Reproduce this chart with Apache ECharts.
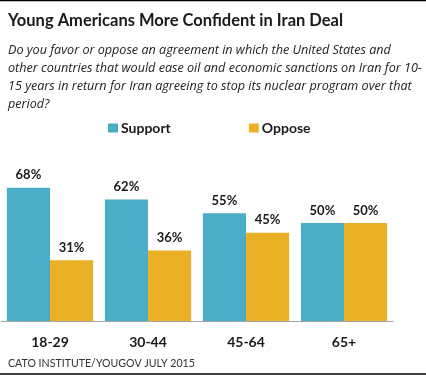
<!DOCTYPE html>
<html>
<head>
<meta charset="utf-8">
<script src="https://cdn.jsdelivr.net/npm/echarts@6/dist/echarts.min.js"></script>
<style>
  html, body { margin: 0; padding: 0; background: #fff; }
  #chart { width: 426px; height: 376px; }
</style>
</head>
<body>
<div id="chart"></div>
<script>
const ageGroups = ['18-29', '30-44', '45-64', '65+'];
const supportVals = [68, 62, 55, 50];
const opposeVals = [31, 36, 45, 50];
const seriesNames = ['Support', 'Oppose'];
const questionLines = [
    'Do you favor or oppose an agreement in which the United States and',
    'other countries that would ease oil and economic sanctions on Iran for 10-',
    '15 years in return for Iran agreeing to stop its nuclear program over that',
    'period?'
];

const font = 'Lato, "Open Sans", sans-serif';
const chart = echarts.init(document.getElementById('chart'));

chart.setOption({
    animation: false,
    textStyle: { fontFamily: font },
    title: [
        {
            text: 'Young Americans More Confident in Iran Deal',
            left: 3, top: 7,
            textStyle: { fontSize: 16.5, fontWeight: 'bold', color: '#1a1a1a', fontFamily: font }
        },
        {
            text: questionLines.join('\n'),
            left: 3, top: 36,
            textStyle: { fontSize: 12.6, fontStyle: 'italic', fontWeight: 'normal', color: '#222', lineHeight: 18, fontFamily: '"Open Sans", sans-serif' }
        },
        {
            text: 'CATO INSTITUTE/YOUGOV JULY 2015',
            left: 3, top: 353,
            textStyle: { fontSize: 10.6, fontWeight: 'normal', color: '#333', fontFamily: font }
        }
    ],
    legend: {
        data: seriesNames,
        left: 103, top: 116,
        icon: 'rect',
        itemWidth: 10, itemHeight: 9,
        itemGap: 78,
        textStyle: { fontSize: 14, fontWeight: 'bold', color: '#1a1a1a', fontFamily: font, padding: [0, 0, 0, -2] }
    },
    grid: { left: 1, right: 33, top: 125, bottom: 55 },
    xAxis: {
        type: 'category',
        data: ageGroups,
        axisLine: { lineStyle: { color: '#a6a6a6', width: 1 } },
        axisTick: { show: false },
        axisLabel: { margin: 14, fontSize: 14, fontWeight: 'bold', color: '#1a1a1a', fontFamily: font }
    },
    yAxis: {
        type: 'value', min: 0, max: 100,
        show: false,
        splitLine: { show: false }
    },
    series: [
        {
            name: 'Support', type: 'bar', data: supportVals,
            barGap: '0%', barCategoryGap: '12%',
            itemStyle: { color: '#4BACC6' },
            label: { show: true, position: 'top', distance: 6, formatter: '{c}%', fontSize: 13, fontWeight: 'bold', color: '#1a1a1a', fontFamily: font }
        },
        {
            name: 'Oppose', type: 'bar', data: opposeVals,
            itemStyle: { color: '#EAB126' },
            label: { show: true, position: 'top', distance: 6, formatter: '{c}%', fontSize: 13, fontWeight: 'bold', color: '#1a1a1a', fontFamily: font }
        }
    ],
    graphic: [
        { type: 'line', shape: { x1: 0, y1: 0.5, x2: 426, y2: 0.5 }, style: { stroke: '#000', lineWidth: 1.5 } },
        { type: 'line', shape: { x1: 0, y1: 374, x2: 426, y2: 374 }, style: { stroke: '#000', lineWidth: 1.5 } }
    ]
});
</script>
</body>
</html>
